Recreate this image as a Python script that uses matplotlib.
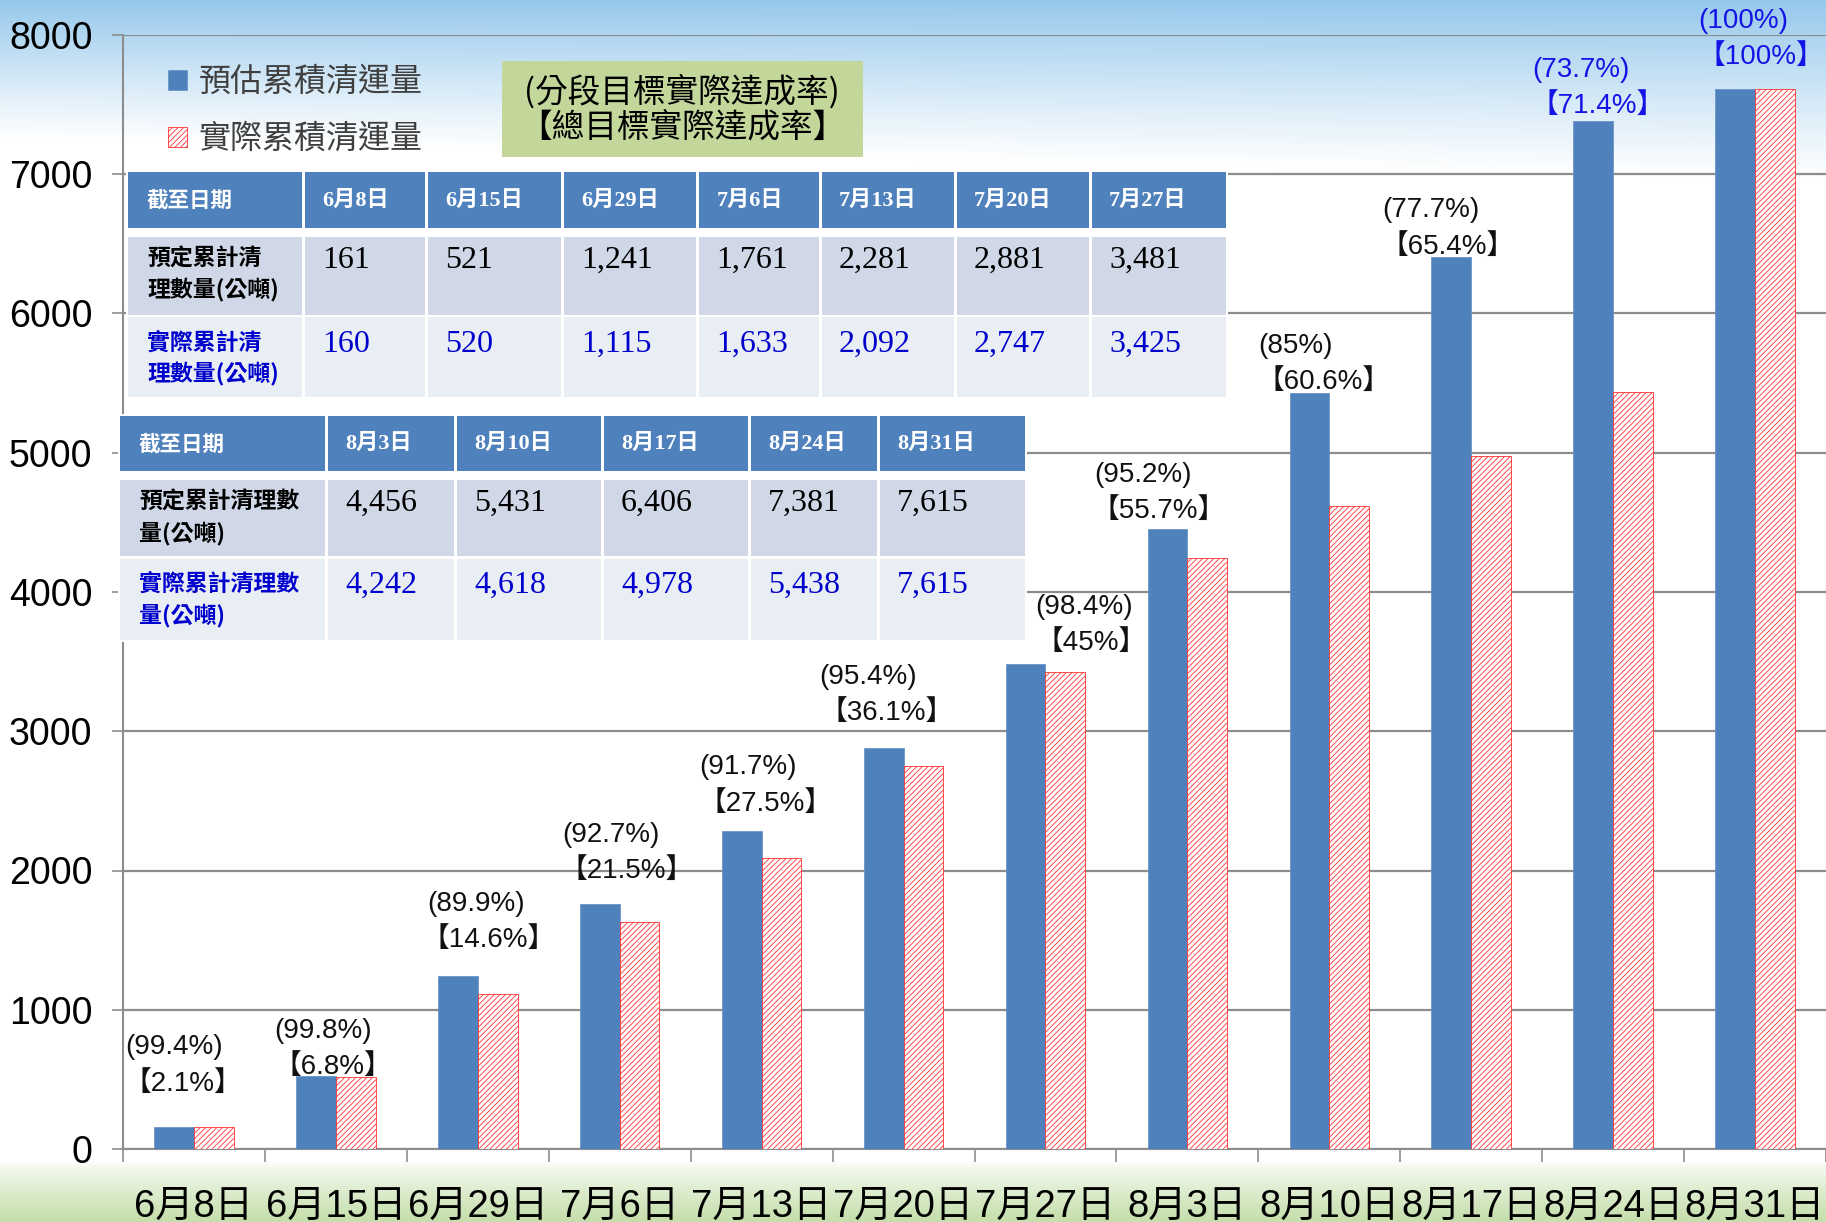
import numpy as np
import matplotlib
matplotlib.use('Agg')
import matplotlib.pyplot as plt
from matplotlib.patches import Rectangle

# ---------------- data ----------------
categories = ['6月8日', '6月15日', '6月29日', '7月6日', '7月13日', '7月20日',
              '7月27日', '8月3日', '8月10日', '8月17日', '8月24日', '8月31日']
planned = [161, 521, 1241, 1761, 2281, 2881, 3481, 4456, 5431, 6406, 7381, 7615]
actual = [160, 520, 1115, 1633, 2092, 2747, 3425, 4242, 4618, 4978, 5438, 7615]
stage_rate = ['99.4%', '99.8%', '89.9%', '92.7%', '91.7%', '95.4%', '98.4%',
              '95.2%', '85%', '77.7%', '73.7%', '100%']
total_rate = ['2.1%', '6.8%', '14.6%', '21.5%', '27.5%', '36.1%', '45%',
              '55.7%', '60.6%', '65.4%', '71.4%', '100%']
series_names = ['預估累積清運量', '實際累積清運量']
y_ticks = [0, 1000, 2000, 3000, 4000, 5000, 6000, 7000, 8000]
box_lines = ['(分段目標實際達成率)', '【總目標實際達成率】']
table_head = '截至日期'
table1_rows = [['預定累計清', '理數量(公噸)'], ['實際累計清', '理數量(公噸)']]
table2_rows = [['預定累計清理數', '量(公噸)'], ['實際累計清理數', '量(公噸)']]
split = 7  # first table covers the first 7 dates

# ---------------- layout / style ----------------
W, H = 1826, 1222
BLUE = '#4F81BD'
RED = '#FF3030'
TBLUE = '#0000CC'
GRID = '#8C8C8C'
CJK = ['Noto Sans CJK TC']
SANS = ['Liberation Sans', 'Noto Sans CJK TC']
SERIF = ['Liberation Serif', 'Noto Sans CJK TC']

# label offsets (points) for the 【】 label relative to group centre / blue top
br_dx = [-8, -2, 8, 5, 2.5, -12, 33, -21, -4, -17, -11, 4]
br_dy = [31, 7, 26, 23.5, 20, 25, 15, 12.6, 7.5, 7.5, 11, 22.6]
par_dx = [-6, -7, -9, -11, -12.5, -13.5, -5, -11, -20, -12, -12.5, -12.5]
label_colors = ['#111111'] * 10 + ['#1414E6'] * 2

plt.rcParams['hatch.linewidth'] = 0.6
plt.rcParams['hatch.color'] = RED

fig = plt.figure(figsize=(W / 100, H / 100), dpi=100)

# background: sky at top, grass at bottom
bg = fig.add_axes([0, 0, 1, 1], zorder=-10)
yy = np.arange(H)[:, None] / 1.0
xx = np.arange(W)[None, :] / 1.0
sky = np.array([150, 200, 236]) / 255
grass = np.array([196, 222, 170]) / 255
white = np.ones(3)
fs = np.clip(1 - yy / (140 + 40 * xx / W), 0, 1) ** 1.1
fg = np.clip((yy - 1160) / 62, 0, 1) ** 0.8
img = white[None, None, :] * np.ones((H, W, 1))
img = img + (sky - white)[None, None, :] * fs[..., None]
img = img + (grass - white)[None, None, :] * fg[..., None] * np.ones((1, W, 1))
bg.imshow(np.clip(img, 0, 1), aspect='auto', extent=(0, 1, 0, 1))
bg.set_axis_off()

# main axes
ax = fig.add_axes([123 / W, 1 - 1149 / H, 1 - 123 / W, (1149 - 35) / H])
ax.set_facecolor('none')
x = np.arange(len(categories))
bw = 0.28
b1 = ax.bar(x - bw / 2, planned, bw, color=BLUE, edgecolor='#6C95C8', lw=0.6,
            zorder=3, label=series_names[0])
b2 = ax.bar(x + bw / 2, actual, bw, facecolor='white', edgecolor=RED,
            hatch='//////', lw=0.6, zorder=3, label=series_names[1])

ax.set_xlim(-0.5, len(categories) - 0.5)
ax.set_ylim(0, 8000)
ax.set_yticks(y_ticks)
ax.set_yticklabels([str(v) for v in y_ticks], fontsize=27,
                   family=['Liberation Sans'])
ax.yaxis.grid(True, color=GRID, lw=1.6, zorder=0)
ax.set_axisbelow(True)
for s in ['top', 'right']:
    ax.spines[s].set_visible(False)
for s in ['left', 'bottom']:
    ax.spines[s].set_color(GRID)
    ax.spines[s].set_linewidth(1.5)
ax.tick_params(axis='y', length=8, width=1.2, color=GRID, pad=14)
ax.set_xticks(x)
ax.set_xticklabels(categories, fontsize=27.5, family=SANS)
ax.tick_params(axis='x', which='major', length=0, pad=29)
ax.set_xticks(np.arange(-0.5, len(categories), 1), minor=True)
ax.tick_params(axis='x', which='minor', length=9, width=1.2, color=GRID)

# rate labels
for i in range(len(categories)):
    ax.annotate('【' + total_rate[i] + '】', xy=(i, planned[i]),
                xytext=(br_dx[i], br_dy[i]), textcoords='offset points',
                ha='center', va='center', fontsize=20, family=SANS,
                color=label_colors[i], zorder=6)
    ax.annotate('(' + stage_rate[i] + ')', xy=(i, planned[i]),
                xytext=(br_dx[i] + par_dx[i], br_dy[i] + 26),
                textcoords='offset points', ha='center', va='center',
                fontsize=20, family=SANS, color=label_colors[i], zorder=6)

# legend
leg = ax.legend(handles=[b1, b2], labels=series_names, loc='upper left',
                bbox_to_anchor=(168 / W, 1 - 66 / H),
                bbox_transform=fig.transFigure, frameon=False,
                prop={'family': CJK, 'size': 23, 'weight': 'light'},
                handlelength=0.6, handleheight=0.6, handletextpad=0.35,
                labelspacing=0.78, borderpad=0, borderaxespad=0)
for t in leg.get_texts():
    t.set_color('#404040')


# helpers in full-pixel figure coordinates
def rect(x0, y0, x1, y1, color, z=5):
    fig.add_artist(Rectangle((x0 / W, 1 - y1 / H), (x1 - x0) / W, (y1 - y0) / H,
                             transform=fig.transFigure, facecolor=color,
                             edgecolor='none', zorder=z))


def ftext(px, py, s, **kw):
    fig.text(px / W, 1 - py / H, s, zorder=8, **kw)


# green box
rect(502, 61, 863, 157, '#C4D79B')
ftext(682, 91, box_lines[0], ha='center', va='center', fontsize=23.5, family=CJK)
ftext(682, 128, box_lines[1], ha='center', va='center', fontsize=23.5, family=CJK)


def draw_table(cols, rows, dates, plan_vals, act_vals, row_labels):
    # cols: column boundaries, rows: row boundaries (full px)
    g = 1.5
    rect(cols[0] - 2, rows[0] - 2, cols[-1] + 2, rows[-1] + 2, 'white', z=4)
    fills = ['#4F81BD', '#D0D8E8', '#E9EDF4']
    for r in range(3):
        top = rows[r] + (g if r > 0 else 0) + (3 if r == 1 else 0)
        bot = rows[r + 1] - (g if r < 2 else 0) - (3 if r == 0 else 0)
        for c in range(len(cols) - 1):
            l = cols[c] + (g if c > 0 else 0)
            rr = cols[c + 1] - (g if c < len(cols) - 2 else 0)
            rect(l, top, rr, bot, fills[r])
    pad = 19
    hy = (rows[0] + rows[1] - 3) / 2
    ftext(cols[0] + pad, hy, table_head, ha='left', va='center', fontsize=15.5,
          weight='bold', color='white', family=CJK)
    for c, d in enumerate(dates):
        ftext(cols[c + 1] + pad, hy, d, ha='left', va='center', fontsize=16,
              weight='bold', color='white', family=SERIF)
    for r, (vals, col) in enumerate([(plan_vals, 'black'), (act_vals, TBLUE)]):
        top = rows[r + 1] + 2
        ftext(cols[0] + pad, top + 32, row_labels[r][0], ha='left',
              va='baseline', fontsize=16.5, weight='bold', color=col, family=CJK)
        ftext(cols[0] + pad, top + 63, row_labels[r][1], ha='left',
              va='baseline', fontsize=16.5, weight='bold', color=col, family=CJK)
        for c, v in enumerate(vals):
            ftext(cols[c + 1] + pad, top + 34, f'{v:,}', ha='left',
                  va='baseline', fontsize=23, color=col, family=['Liberation Serif'])


draw_table([128, 303, 426, 562.5, 697.5, 820, 955, 1090, 1226],
           [172, 232, 316, 397],
           categories[:split], planned[:split], actual[:split], table1_rows)
draw_table([120, 326, 455, 602, 749, 878, 1025],
           [416, 475, 557, 640],
           categories[split:], planned[split:], actual[split:], table2_rows)

fig.savefig('out.png', dpi=100)
